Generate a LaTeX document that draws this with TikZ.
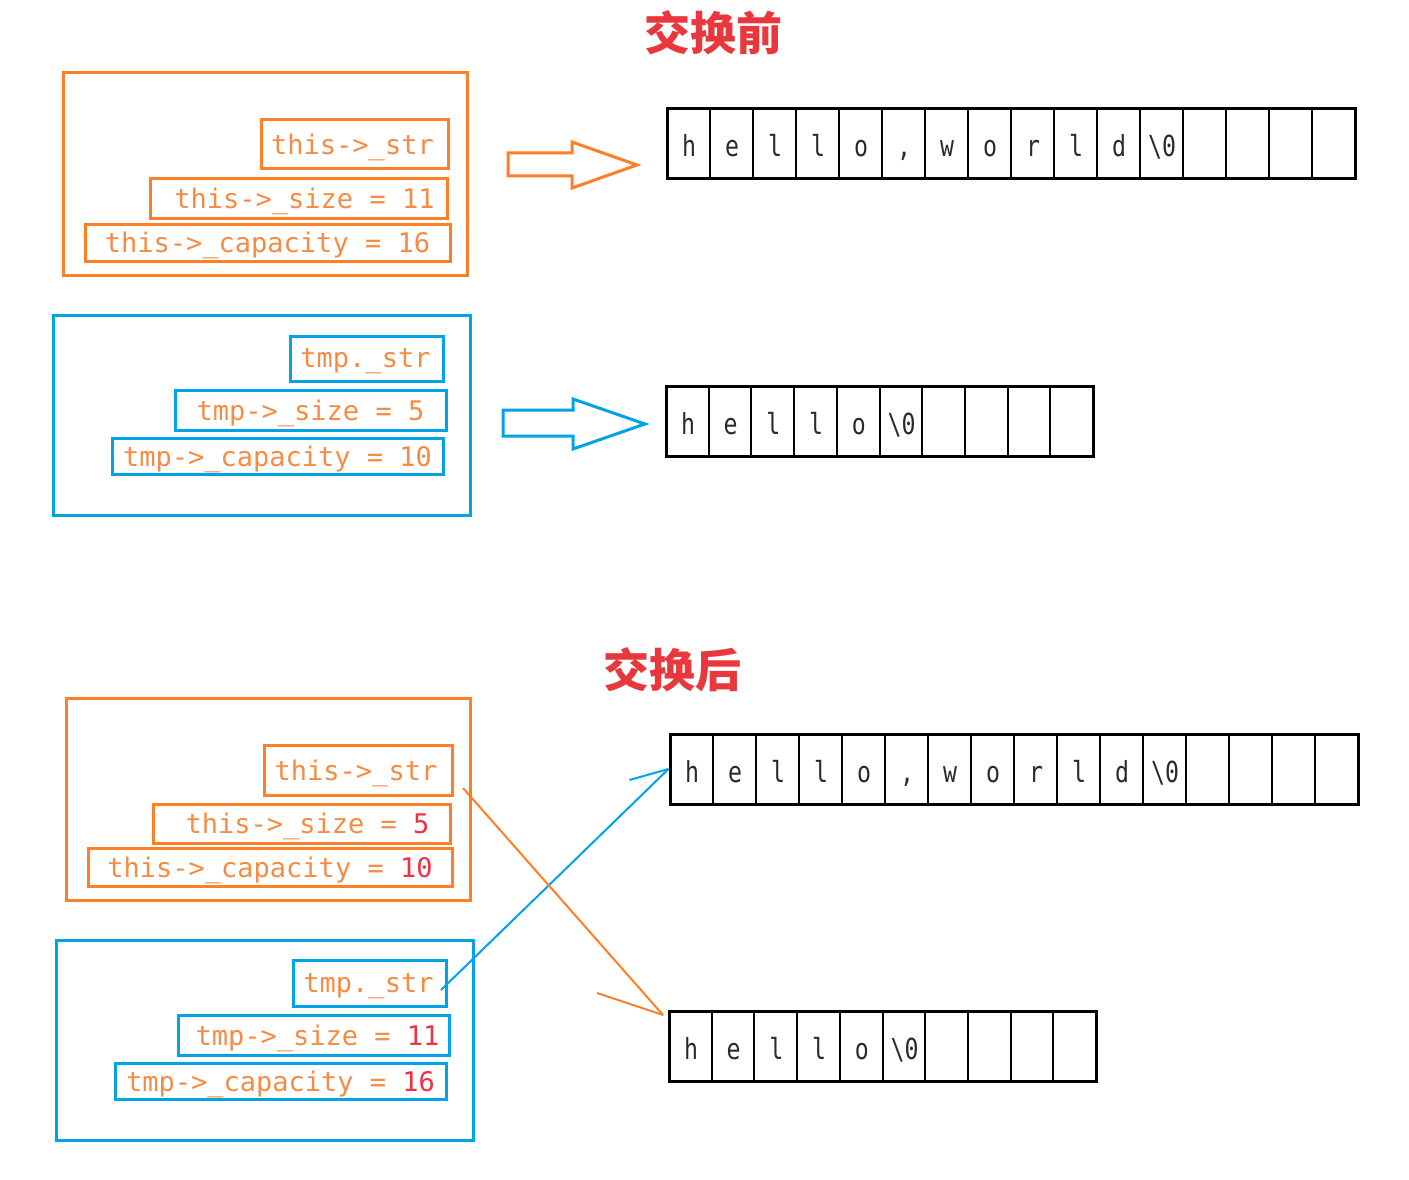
\documentclass[tikz,border=0pt]{standalone}
\usepackage{fontspec}
\setmonofont{DejaVu Sans Mono}
\newfontfamily\cjk{Noto Sans CJK SC}
\newfontfamily\cellfont{DejaVu Sans Mono}[FakeStretch=0.8]
\usetikzlibrary{fit}
\definecolor{ora}{HTML}{FF7F27}
\definecolor{otext}{HTML}{F48C45}
\definecolor{blu}{HTML}{00A2E8}
\definecolor{rd}{HTML}{EC3244}
\definecolor{ttl}{HTML}{E8383D}
\definecolor{cellc}{HTML}{2A2A2A}
\tikzset{
  outerbox/.style={draw=#1, line width=3pt, inner sep=0pt},
  innerbox/.style={draw=#1, line width=3pt, inner sep=0pt},
  boxtext/.style={text=otext, inner sep=0pt, yshift=-3pt,
    font=\ttfamily\fontsize{27}{30}\selectfont},
  titletext/.style={text=ttl, font=\cjk\bfseries\fontsize{46}{50}\selectfont, inner sep=0pt},
  arrframe/.style={draw=black, line width=3pt, inner sep=0pt},
  divider/.style={draw=black, line width=2pt},
  celltext/.style={text=cellc, font=\cellfont\fontsize{29}{32}\selectfont, inner sep=0pt, anchor=base},
  blockarrow/.style={draw=#1, line width=3pt, fill=white, line join=miter},
  link/.style={draw=#1, line width=2pt}
}
\begin{document}
\begin{tikzpicture}[x=1pt,y=-1pt]
\useasboundingbox (0,0) rectangle (1409,1180);
\fill[white] (0,0) rectangle (1409,1180);

% titles
\node[titletext] (t1) at (713,33) {交换前};
\node[titletext] (t2) at (672,670) {交换后};

% ---------- before ----------
\node[outerbox=ora, fit={(63,73) (467,275)}] (o1) {};
\node[innerbox=ora, fit={(261,120) (448,169)}] (a1) {};
\node[boxtext] (a1t) at ([xshift=-2pt]a1.center) {this->\_str};
\node[innerbox=ora, fit={(150,179) (447,218)}] (a2) {};
\node[boxtext] (a2t) at ([xshift=6pt]a2.center) {this->\_size = 11};
\node[innerbox=ora, fit={(85,224) (450,261)}] (a3) {};
\node[boxtext] (a3t) at (a3.center) {this->\_capacity = 16};

\node[outerbox=blu, fit={(53,315) (470,515)}] (o2) {};
\node[innerbox=blu, fit={(290,336) (443,381)}] (b1) {};
\node[boxtext] (b1t) at ([xshift=-1pt]b1.center) {tmp.\_str};
\node[innerbox=blu, fit={(175,390) (446,430)}] (b2) {};
\node[boxtext] (b2t) at (b2.center) {tmp->\_size = 5};
\node[innerbox=blu, fit={(112,438) (443,474)}] (b3) {};
\node[boxtext] (b3t) at (b3.center) {tmp->\_capacity = 10};

% block arrows
\draw[blockarrow=ora] (508,153) -- (572,153) -- (572,142) -- (637,165) -- (572,188) -- (572,176) -- (508,176) -- cycle;
\draw[blockarrow=blu] (503,410) -- (573,410) -- (573,399) -- (645,424) -- (573,449) -- (573,436) -- (503,436) -- cycle;

% arrays (before)
\node[arrframe, fit={(667,109) (1355,179)}] (A) {};
\foreach \c [count=\i from 0] in {h,e,l,l,o,{,},w,o,r,l,d,\textbackslash0,{},{},{},{}}{
  \pgfmathsetmacro\xl{667+43*\i}
  \ifnum\i>0 \draw[divider] (\xl,109) -- (\xl,179);\fi
  \node[celltext] (A\i) at (\xl+22,157) {\c};
}
\node[arrframe, fit={(666,386) (1093,456)}] (B) {};
\foreach \c [count=\i from 0] in {h,e,l,l,o,\textbackslash0,{},{},{},{}}{
  \pgfmathsetmacro\xl{666+42.7*\i}
  \ifnum\i>0 \draw[divider] (\xl,386) -- (\xl,456);\fi
  \node[celltext] (B\i) at (\xl+22,434) {\c};
}

% ---------- after ----------
\node[outerbox=ora, fit={(66,698) (470,900)}] (o3) {};
\node[innerbox=ora, fit={(264,745) (452,795)}] (c1) {};
\node[boxtext] (c1t) at ([xshift=-2pt]c1.center) {this->\_str};
\node[innerbox=ora, fit={(153,804) (450,843)}] (c2) {};
\node[boxtext] (c2t) at ([xshift=6pt]c2.center) {this->\_size = {\color{rd}5}};
\node[innerbox=ora, fit={(88,848) (452,886)}] (c3) {};
\node[boxtext] (c3t) at (c3.center) {this->\_capacity = {\color{rd}10}};

\node[outerbox=blu, fit={(56,940) (473,1140)}] (o4) {};
\node[innerbox=blu, fit={(293,960) (446,1006)}] (d1) {};
\node[boxtext] (d1t) at ([xshift=-1pt]d1.center) {tmp.\_str};
\node[innerbox=blu, fit={(178,1015) (449,1055)}] (d2) {};
\node[boxtext] (d2t) at ([xshift=4pt]d2.center) {tmp->\_size = {\color{rd}11}};
\node[innerbox=blu, fit={(115,1063) (446,1099)}] (d3) {};
\node[boxtext] (d3t) at (d3.center) {tmp->\_capacity = {\color{rd}16}};

\node[arrframe, fit={(670,734) (1358,804)}] (C) {};
\foreach \c [count=\i from 0] in {h,e,l,l,o,{,},w,o,r,l,d,\textbackslash0,{},{},{},{}}{
  \pgfmathsetmacro\xl{670+43*\i}
  \ifnum\i>0 \draw[divider] (\xl,734) -- (\xl,804);\fi
  \node[celltext] (C\i) at (\xl+22,782) {\c};
}
\node[arrframe, fit={(669,1011) (1096,1081)}] (D) {};
\foreach \c [count=\i from 0] in {h,e,l,l,o,\textbackslash0,{},{},{},{}}{
  \pgfmathsetmacro\xl{669+42.7*\i}
  \ifnum\i>0 \draw[divider] (\xl,1011) -- (\xl,1081);\fi
  \node[celltext] (D\i) at (\xl+22,1059) {\c};
}

% connectors
\coordinate (bs) at (441,990);
\coordinate (os) at (463,788);
\coordinate (ot) at (663,1015);
\draw[link=blu] (bs) -- (C.west);
\draw[link=blu] (C.west) -- ++(-39,11);
\draw[link=ora] (os) -- (ot);
\draw[link=ora] (ot) -- ++(-66,-22);
\end{tikzpicture}
\end{document}
